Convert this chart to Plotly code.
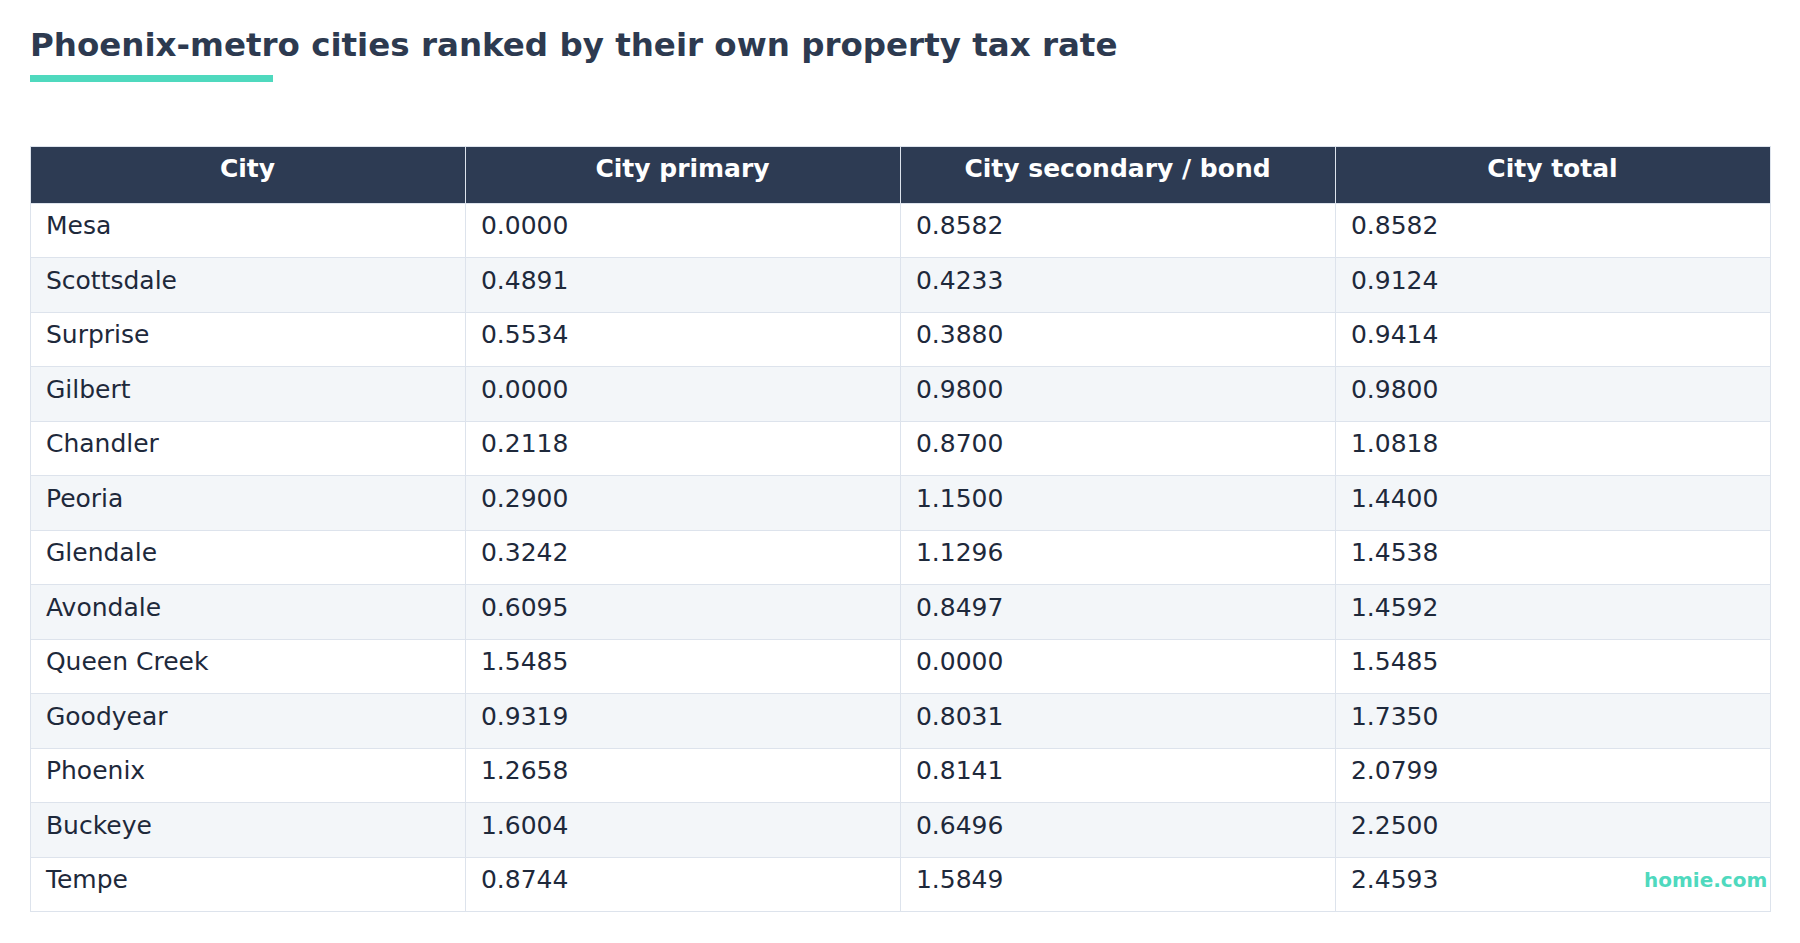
import plotly.graph_objects as go

# Données
cities = ["Mesa", "Scottsdale", "Surprise", "Gilbert", "Chandler", "Peoria", "Glendale",
          "Avondale", "Queen Creek", "Goodyear", "Phoenix", "Buckeye", "Tempe"]
city_primary = [0.0000, 0.4891, 0.5534, 0.0000, 0.2118, 0.2900, 0.3242,
                0.6095, 1.5485, 0.9319, 1.2658, 1.6004, 0.8744]
city_secondary = [0.8582, 0.4233, 0.3880, 0.9800, 0.8700, 1.1500, 1.1296,
                  0.8497, 0.0000, 0.8031, 0.8141, 0.6496, 1.5849]
city_total = [0.8582, 0.9124, 0.9414, 0.9800, 1.0818, 1.4400, 1.4538,
              1.4592, 1.5485, 1.7350, 2.0799, 2.2500, 2.4593]
headers = ["City", "City primary", "City secondary / bond", "City total"]

# La page HTML ajoute une marge de 8px autour du graphique
OFF = 8
W, H = 1800 - 2 * OFF, 943 - 2 * OFF


def px_x(x):
    return (x - OFF) / W


def px_y(y):
    return 1 - (y - OFF) / H


# <sub> : texte à 70% et décalé vers le bas -> centrage vertical approximatif
# (la table plotly n'a pas d'alignement vertical)
def cell(t):
    return f"<sub>\u00a0{t}</sub>"


row_fill = ["#ffffff" if i % 2 == 0 else "#f3f6f9" for i in range(len(cities))]
base_size = 25 / 0.7

fig = go.Figure(go.Table(
    domain=dict(x=[px_x(30), px_x(1770)], y=[0, px_y(146)]),
    columnwidth=[1, 1, 1, 1],
    header=dict(
        values=[f"<sub><b>{h}</b></sub>" for h in headers],
        fill_color="#2d3b53",
        line=dict(color="#dde3ec", width=1),
        align="center",
        font=dict(family="DejaVu Sans", size=base_size, color="#ffffff"),
        height=57,
    ),
    cells=dict(
        values=[[cell(c) for c in cities],
                [cell(f"{v:.4f}") for v in city_primary],
                [cell(f"{v:.4f}") for v in city_secondary],
                [cell(f"{v:.4f}") for v in city_total]],
        fill_color=[row_fill] * 4,
        line=dict(color="#dde3ec", width=1),
        align="left",
        font=dict(family="DejaVu Sans", size=base_size, color="#1e293b"),
        height=54.5,
    ),
))

# Titre
fig.add_annotation(
    text="<b>Phoenix-metro cities ranked by their own property tax rate</b>",
    x=px_x(28), y=px_y(45), xref="paper", yref="paper",
    xanchor="left", yanchor="middle", showarrow=False,
    font=dict(family="DejaVu Sans", size=32.5, color="#2d3a50"),
)
# Soulignement du titre
fig.add_shape(type="rect", xref="paper", yref="paper",
              x0=px_x(30), x1=px_x(273), y0=px_y(82), y1=px_y(75),
              fillcolor="#4fd9be", line_width=0)

# Marque
fig.add_annotation(
    text="<b>homie.com</b>",
    x=px_x(1769), y=px_y(880), xref="paper", yref="paper",
    xanchor="right", yanchor="middle", showarrow=False,
    font=dict(family="DejaVu Sans", size=20, color="#4fd9be"),
)

fig.update_layout(
    width=W, height=H,
    margin=dict(l=0, r=0, t=0, b=0),
    paper_bgcolor="#ffffff",
    plot_bgcolor="#ffffff",
)

fig.write_html("out.html")
